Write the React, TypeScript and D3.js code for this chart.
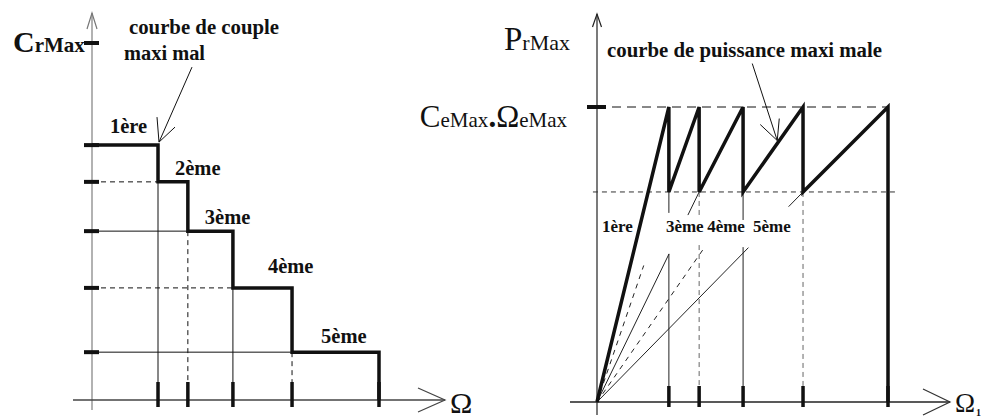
import { line, scaleLinear } from 'd3'

const width = 984
const height = 419

// gauche : couple maxi par rapport
const torqueShift = [23, 33.4, 49.1, 69.7, 100]
const torqueLevel = [71.4, 61.1, 47.3, 31.4, 13.4]
const torqueMax = 100
const gearLabels = ['1ère', '2ème', '3ème', '4ème', '5ème']

// droite : puissance maxi par rapport
const powerShift = [24.7, 35.1, 50.2, 70.8, 100]
const powerLow = 71.2
const powerMax = 100
const powerLabels = ['1ère', '3ème', '4ème', '5ème']

// droites issues de l'origine : rapport visé, style, morceaux visibles (fraction)
const rays = [
  { gear: 0, dashed: true, parts: [[0, 0.65]] },
  { gear: 1, dashed: false, parts: [[0, 0.705], [0.89, 1]] },
  { gear: 2, dashed: true, parts: [[0, 0.74]] },
  { gear: 3, dashed: false, parts: [[0, 0.735], [0.93, 1]] },
]

// verticales : rapport, style, morceaux visibles (en puissance)
const drops = [
  { gear: 0, dashed: false, parts: [[71.2, 64.1], [50.2, 0]] },
  { gear: 1, dashed: true, parts: [[71.2, 63.4], [53.2, 0]] },
  { gear: 2, dashed: false, parts: [[71.2, 61.7], [52.5, 0]] },
  { gear: 3, dashed: true, parts: [[71.2, 0]] },
]

const xL = scaleLinear().domain([0, 100]).range([92, 379])
const yL = scaleLinear().domain([0, 100]).range([400, 43])
const xR = scaleLinear().domain([0, 100]).range([597, 888])
const yR = scaleLinear().domain([0, 100]).range([402, 107])

const ink = '#111'
const serif = '"Liberation Serif", "Times New Roman", serif'

// label offsets (px) from step start / level
const leftLabelDx = [18, 17, 17, 35, 29]
const leftLabelDy = [-12, -7, -7, -15, -9]

const App = () => {
  const pathL = line<number[]>()
    .x((d) => xL(d[0]))
    .y((d) => yL(d[1]))
  const pathR = line<number[]>()
    .x((d) => xR(d[0]))
    .y((d) => yR(d[1]))

  const stairs: number[][] = [[0, torqueLevel[0]]]
  torqueShift.forEach((s, i) => {
    stairs.push([s, torqueLevel[i]])
    stairs.push([s, i < torqueLevel.length - 1 ? torqueLevel[i + 1] : 0])
  })

  const saw: number[][] = [[0, 0]]
  powerShift.forEach((s, i) => {
    saw.push([s, powerMax])
    saw.push([s, i < powerShift.length - 1 ? powerLow : 0])
  })

  const chevronUp = (x: number, y: number, w: number, h: number) =>
    `M${x - w},${y + h}L${x},${y}L${x + w},${y + h}`
  const chevronRight = (x: number, y: number, w: number, h: number) =>
    `M${x - w},${y - h}L${x},${y}L${x - w},${y + h}`

  return (
    <svg
      width={width}
      height={height}
      style={{ position: 'absolute', left: 0, top: 0, background: '#fff' }}
      fontFamily={serif}
    >
      {/* ---------- gauche ---------- */}
      <line x1={92} y1={410} x2={92} y2={13} stroke="#999" strokeWidth={1.5} />
      <path d={chevronUp(92, 13, 5, 16)} fill="none" stroke="#777" strokeWidth={1.2} />
      <line x1={73} y1={400} x2={445} y2={400} stroke="#444" strokeWidth={1.3} />
      <path d={chevronRight(445, 400, 27, 12)} fill="none" stroke="#444" strokeWidth={1.2} />

      {torqueLevel.slice(1).map((lv, k) => {
        const i = k + 1
        return (
          <g key={i}>
            <line
              x1={xL(0)}
              x2={xL(torqueShift[i - 1])}
              y1={yL(lv)}
              y2={yL(lv)}
              stroke={ink}
              strokeWidth={1}
              strokeDasharray={i % 2 === 1 ? '5,4' : undefined}
            />
            <line
              x1={xL(torqueShift[i - 1])}
              x2={xL(torqueShift[i - 1])}
              y1={yL(lv)}
              y2={yL(0)}
              stroke={ink}
              strokeWidth={1}
              strokeDasharray={i % 2 === 0 ? '5,4' : undefined}
            />
          </g>
        )
      })}

      <path d={pathL(stairs) ?? ''} fill="none" stroke={ink} strokeWidth={3.5} />

      {[torqueMax, ...torqueLevel].map((lv) => (
        <line key={lv} x1={84} x2={99} y1={yL(lv)} y2={yL(lv)} stroke={ink} strokeWidth={4} />
      ))}
      {torqueShift.map((s) => (
        <line key={s} x1={xL(s)} x2={xL(s)} y1={382} y2={407} stroke={ink} strokeWidth={3.5} />
      ))}

      {gearLabels.map((g, i) => (
        <text
          key={g}
          x={xL(i === 0 ? 0 : torqueShift[i - 1]) + leftLabelDx[i]}
          y={yL(torqueLevel[i]) + leftLabelDy[i]}
          fontSize={20.5}
          fontWeight="bold"
          fill={ink}
        >
          {g}
        </text>
      ))}

      <text x={13} y={52} fontWeight="bold" fill={ink}>
        <tspan fontSize={30}>C</tspan>
        <tspan fontSize={21}>rMax</tspan>
      </text>
      <text x={129} y={34} fontSize={20.5} fontWeight="bold" fill={ink} textLength={150} lengthAdjust="spacingAndGlyphs">
        courbe de couple
      </text>
      <text x={124} y={60} fontSize={20.5} fontWeight="bold" fill={ink} textLength={81} lengthAdjust="spacingAndGlyphs">
        maxi mal
      </text>
      {(() => {
        const tx = xL(torqueShift[0]) + 1
        const ty = yL(torqueLevel[0]) - 3
        return (
          <path
            d={`M${tx + 33},${ty - 75}L${tx},${ty}M${tx - 2},${ty - 25}L${tx},${ty}L${tx + 16},${ty - 15}`}
            fill="none"
            stroke={ink}
            strokeWidth={1}
          />
        )
      })()}
      <text x={450} y={413} fontSize={30} fill={ink}>
        Ω
      </text>

      {/* ---------- droite ---------- */}
      <line x1={597} y1={415} x2={597} y2={14} stroke="#222" strokeWidth={1.2} />
      <path d={chevronUp(597, 14, 4.5, 13)} fill="none" stroke="#222" strokeWidth={1.2} />
      <line x1={570} y1={402} x2={950} y2={402} stroke="#222" strokeWidth={1.3} />
      <path d={chevronRight(950, 402, 27, 13)} fill="none" stroke="#333" strokeWidth={1.2} />

      <line
        x1={xR(0)}
        x2={xR(powerShift[powerShift.length - 1])}
        y1={yR(powerMax)}
        y2={yR(powerMax)}
        stroke={ink}
        strokeWidth={1}
        strokeDasharray="9,6"
      />
      <line
        x1={xR(-1.4)}
        x2={xR(102.4)}
        y1={yR(powerLow)}
        y2={yR(powerLow)}
        stroke="#333"
        strokeWidth={1}
        strokeDasharray="5,4"
      />

      {rays.map((r, i) =>
        r.parts.map(([a, b], j) => (
          <line
            key={`r${i}${j}`}
            x1={xR(powerShift[r.gear] * a)}
            y1={yR(powerLow * a)}
            x2={xR(powerShift[r.gear] * b)}
            y2={yR(powerLow * b)}
            stroke="#222"
            strokeWidth={1}
            strokeDasharray={r.dashed ? '5,5' : undefined}
          />
        ))
      )}
      {drops.map((d, i) =>
        d.parts.map(([a, b], j) => (
          <line
            key={`d${i}${j}`}
            x1={xR(powerShift[d.gear])}
            x2={xR(powerShift[d.gear])}
            y1={yR(a)}
            y2={yR(b)}
            stroke={d.dashed ? '#666' : '#222'}
            strokeWidth={1}
            strokeDasharray={d.dashed ? '5,4' : undefined}
          />
        ))
      )}

      <path d={pathR(saw) ?? ''} fill="none" stroke={ink} strokeWidth={3.5} strokeLinejoin="miter" />

      <line x1={587} x2={606} y1={yR(powerMax)} y2={yR(powerMax)} stroke={ink} strokeWidth={4} />
      {powerShift.map((s) => (
        <line key={s} x1={xR(s)} x2={xR(s)} y1={386} y2={407} stroke={ink} strokeWidth={3.5} />
      ))}

      {powerLabels.map((g, i) => {
        const base = i === 0 ? xR(0) + 5 : xR(powerShift[i - 1]) + [-3, 8, 10][i - 1]
        return (
          <text key={g} x={base} y={232} fontSize={17} fontWeight="bold" fill={ink}>
            {g}
          </text>
        )
      })}

      <text x={570} y={50} textAnchor="end" fill={ink}>
        <tspan fontSize={33}>P</tspan>
        <tspan fontSize={22}>rMax</tspan>
      </text>
      <text x={567} y={127} textAnchor="end" fill={ink}>
        <tspan fontSize={31}>C</tspan>
        <tspan fontSize={21}>eMax</tspan>
        <tspan fontSize={31} fontWeight="bold">.</tspan>
        <tspan fontSize={31}>Ω</tspan>
        <tspan fontSize={21}>eMax</tspan>
      </text>
      <text x={607} y={57} fontSize={20.5} fontWeight="bold" fill={ink} textLength={275} lengthAdjust="spacingAndGlyphs">
        courbe de puissance maxi male
      </text>
      {(() => {
        const a = [powerShift[2], powerLow]
        const b = [powerShift[3], powerMax]
        const t = 0.57
        const tx = xR(a[0] + (b[0] - a[0]) * t)
        const ty = yR(a[1] + (b[1] - a[1]) * t) - 3
        return (
          <path
            d={`M${tx - 25},${ty - 77}L${tx},${ty}M${tx - 17},${ty - 16}L${tx},${ty}L${tx + 2},${ty - 22}`}
            fill="none"
            stroke={ink}
            strokeWidth={1}
          />
        )
      })()}
      <text x={955} y={412} fontSize={27} fill={ink}>
        Ω<tspan fontSize={10} fontWeight="bold" dx={1} dy={4}>1</tspan>
      </text>
    </svg>
  )
}

export default App
